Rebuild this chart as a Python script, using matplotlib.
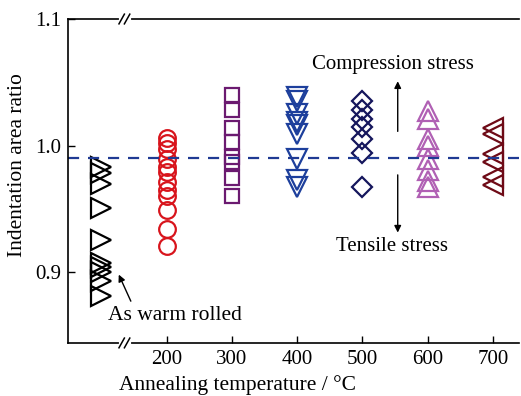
import matplotlib.pyplot as plt

plt.rcParams['font.family'] = ['Liberation Serif', 'DejaVu Serif']
plt.rcParams['mathtext.fontset'] = 'stix'

# indentation area ratio measured for each condition
rolled_x = 100
rolled = [0.983, 0.978, 0.970, 0.951, 0.925, 0.907, 0.904, 0.900, 0.893, 0.881]
t200 = [1.006, 1.002, 0.997, 0.989, 0.983, 0.979, 0.971, 0.965, 0.960, 0.949, 0.934, 0.921]
t300 = [1.040, 1.028, 1.014, 1.003, 0.991, 0.987, 0.974, 0.960]
t400 = [1.038, 1.035, 1.025, 1.019, 1.016, 1.009, 0.989, 0.973, 0.967]
t500 = [1.035, 1.028, 1.021, 1.015, 1.005, 0.994, 0.967]
t600 = [1.027, 1.021, 1.005, 1.000, 0.989, 0.981, 0.972, 0.967]
t700 = [1.014, 1.009, 0.993, 0.987, 0.975, 0.969]
reference_ratio = 0.99

groups = [
    (200, t200, 'o', '#d8141c', 12),
    (300, t300, 's', '#6b1a70', 10.5),
    (400, t400, 'v', '#1d3f9c', 14),
    (500, t500, 'D', '#15165c', 10),
    (600, t600, '^', '#b060b4', 14),
    (700, t700, '<', '#6e0a16', 14),
]

fig = plt.figure(figsize=(5.21, 3.96), dpi=100)
ax = fig.add_axes([0.1305, 0.134, 0.866, 0.818])

ax.plot([rolled_x] * len(rolled), rolled, linestyle='none', marker='>',
        markersize=14.5, markerfacecolor='none', markeredgecolor='black',
        markeredgewidth=1.6)
for temp, vals, mk, col, ms in groups:
    ax.plot([temp] * len(vals), vals, linestyle='none', marker=mk,
            markersize=ms, markerfacecolor='none', markeredgecolor=col,
            markeredgewidth=1.6)

ax.axhline(reference_ratio, color='#1f3a93', linestyle=(0, (5, 4)), linewidth=1.6)

ax.set_xlim(49, 740)
ax.set_ylim(0.844, 1.1)
ax.set_xticks([200, 300, 400, 500, 600, 700])
ax.set_yticks([0.9, 1.0, 1.1])
ax.set_yticklabels(['0.9', '1.0', '1.1'])
ax.tick_params(direction='in', length=5, width=1, labelsize=15)
ax.tick_params(axis='x', pad=5)
ax.tick_params(axis='y', pad=5)
ax.spines['right'].set_visible(False)
for s in ['left', 'bottom', 'top']:
    ax.spines[s].set_linewidth(1.2)

ax.set_xlabel('Annealing temperature / °C', fontsize=15.5)
ax.set_ylabel('Indentation area ratio', fontsize=15.5)
ax.xaxis.set_label_coords(0.376, -0.1)
ax.yaxis.set_label_coords(-0.09, 0.55)

# axis break marks
for yb in [0.0, 1.0]:
    ax.plot([0.118, 0.136], [yb, yb], transform=ax.transAxes, color='white',
            linewidth=3, clip_on=False, zorder=5)
    for xo in [0.118, 0.130]:
        ax.plot([xo - 0.005, xo + 0.007], [yb - 0.015, yb + 0.015],
                transform=ax.transAxes, color='black', linewidth=1.1,
                clip_on=False, zorder=6)

# stress annotations
ax.text(547, 1.064, 'Compression stress', fontsize=15, ha='center', va='center')
ax.annotate('', xy=(554, 1.053), xytext=(554, 1.009),
            arrowprops=dict(arrowstyle='-|>', color='black', lw=1, mutation_scale=10))
ax.text(545, 0.920, 'Tensile stress', fontsize=15, ha='center', va='center')
ax.annotate('', xy=(554, 0.929), xytext=(554, 0.979),
            arrowprops=dict(arrowstyle='-|>', color='black', lw=1, mutation_scale=10))

ax.text(110, 0.866, 'As warm rolled', fontsize=15.5, ha='left', va='center')
ax.annotate('', xy=(125, 0.900), xytext=(147, 0.875),
            arrowprops=dict(arrowstyle='-|>', color='black', lw=1, mutation_scale=10))

fig.savefig('out.png', dpi=100)
